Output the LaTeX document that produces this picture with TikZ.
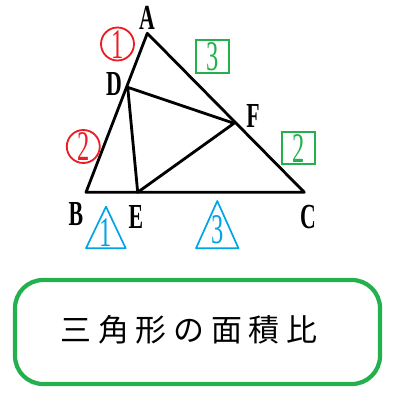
\documentclass[tikz,border=0pt]{standalone}
\usepackage{fontspec}
\setmainfont{Liberation Serif}
\newfontfamily\cjk[LetterSpace=22]{Noto Sans CJK JP}
\definecolor{mred}{RGB}{237,28,36}
\definecolor{mgreen}{RGB}{34,177,76}
\definecolor{mblue}{RGB}{0,162,232}
\tikzset{
  pt/.style={inner sep=0pt, font=\bfseries\fontsize{25}{28}\selectfont, xscale=0.62},
  num/.style={inner sep=0pt, font=\fontsize{30}{33}\selectfont, xscale=0.58},
}
\begin{document}
\begin{tikzpicture}[x=0.025cm, y=-0.025cm]
\useasboundingbox (0,0) rectangle (400,400);
\coordinate (A) at (147.3,33.3);
\coordinate (B) at (86,192.3);
\coordinate (C) at (304.3,192.3);
\coordinate (D) at (127.7,87.3);
\coordinate (E) at (137.7,192.3);
\coordinate (F) at (234,123.3);
\draw[black, line width=2pt, line join=round] (A) -- (B) -- (C) -- cycle;
\draw[black, line width=2pt, line join=round] (D) -- (E) -- (F) -- cycle;
\draw (147,18) node[pt] (lA) {A};
\draw (76,214) node[pt] (lB) {B};
\draw (136,217) node[pt] (lE) {E};
\draw (308,217) node[pt] (lC) {C};
\draw (114,84) node[pt] (lD) {D};
\draw (253,116) node[pt] (lF) {F};
\draw[mred, line width=1.3pt] (117.5,44) circle (16.5);
\draw (117.5,44.5) node[num, mred] (r1) {1};
\draw[mred, line width=1.3pt] (83.3,146.5) circle (16.5);
\draw (83.3,147) node[num, mred] (r2) {2};
\draw[mgreen, line width=1.6pt] (196,40) rectangle (229,73);
\draw (212.5,57) node[num, mgreen] (g3) {3};
\draw[mgreen, line width=1.6pt] (281.7,131.7) rectangle (315,164.3);
\draw (298.3,148.5) node[num, mgreen] (g2) {2};
\draw[mblue, line width=1.2pt, line join=round] (106,206.7) -- (125.7,248.3) -- (86,248.3) -- cycle;
\draw (106,233) node[num, mblue] (b1) {1};
\draw[mblue, line width=1.2pt, line join=round] (217.3,201) -- (238.5,248.3) -- (196,248.3) -- cycle;
\draw (217.3,230) node[num, mblue] (b3) {3};
\draw[mgreen, line width=3pt, rounded corners=20] (15,280) rectangle (380,384);
\draw (189,330) node[inner sep=0pt, font=\cjk\fontsize{22}{25}\selectfont] (title) {三角形の面積比};
\end{tikzpicture}
\end{document}
